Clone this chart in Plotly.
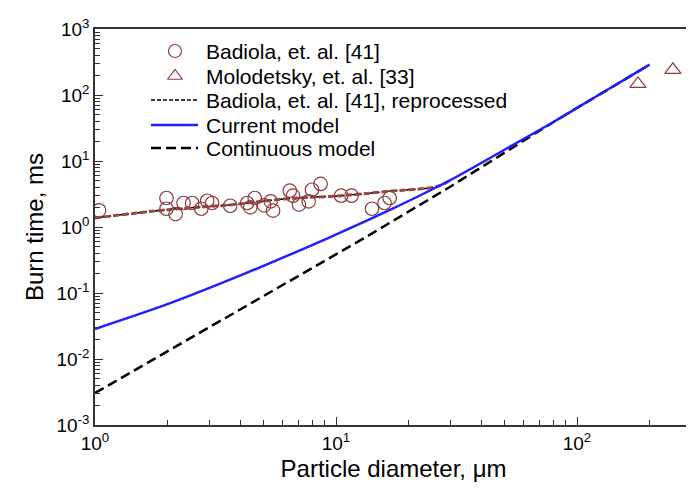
import plotly.graph_objects as go
import numpy as np

# Badiola et al. [41] experimental data (circles)
bad_d = [1.04, 1.98, 1.98, 2.16, 2.33, 2.53, 2.76, 2.92, 3.06, 3.64, 4.28, 4.41, 4.6, 5.03,
         5.36, 5.48, 6.43, 6.63, 7.02, 7.7, 7.95, 8.63, 10.5, 11.6, 14.1, 15.9, 16.7]
bad_t = [1.79, 2.75, 1.89, 1.57, 2.31, 2.31, 1.89, 2.5, 2.31, 2.1, 2.31, 1.99, 2.75, 2.13,
         2.45, 1.77, 3.55, 2.98, 2.18, 2.45, 3.67, 4.49, 2.98, 2.98, 1.89, 2.31, 2.75]

# Molodetsky et al. [33] (triangles)
mol_d = [179, 250]
mol_t = [147, 241]

# Badiola reprocessed (dashed)
rep_d = [1.0, 2.0, 3.7, 6.3, 10.5, 16.4, 26.4, 30.0]
rep_t = [1.37, 1.83, 2.18, 2.69, 2.98, 3.47, 4.14, 5.2]

# Current model (blue)
cur_d = [1.0, 1.97, 4.23, 9.27, 16.4, 30, 50, 80.8, 120, 200]
cur_t = [0.0285, 0.0665, 0.20, 0.68, 1.75, 5.2, 14.8, 40, 95, 288]

# Continuous model (black dashed)
con_d = [1.0, 4.23, 13.1, 30, 80.8, 200]
con_t = [0.00305, 0.063, 0.68, 4.14, 40, 288]

legend_names = ["Badiola, et. al. [41]", "Molodetsky, et. al. [33]",
                "Badiola, et. al. [41], reprocessed", "Current model", "Continuous model"]

x_tickvals = [1, 10, 100]
x_ticktext = ["10<sup>0</sup>", "10<sup>1</sup>", "10<sup>2</sup>"]
y_tickvals = [1e-3, 1e-2, 1e-1, 1, 10, 100, 1000]
y_ticktext = ["10<sup>-3</sup>", "10<sup>-2</sup>", "10<sup>-1</sup>", "10<sup>0</sup>",
              "10<sup>1</sup>", "10<sup>2</sup>", "10<sup>3</sup>"]

x_minor = [m * 10 ** e for e in range(0, 3) for m in range(2, 10) if m * 10 ** e < 300]
y_minor = [m * 10.0 ** e for e in range(-3, 3) for m in range(2, 10)]

BROWN = "#8e3b3b"
BLUE = "#1f1fff"
FONT = "Liberation Sans, Arial, sans-serif"

# plot-area geometry in pixels (used only for the hand-made legend key)
L, R, T, B = 87, 684, 21, 417

fig = go.Figure()
fig.add_trace(go.Scatter(x=rep_d, y=rep_t, mode="lines", name=legend_names[2], showlegend=False,
                         line=dict(color="black", width=1.5, dash="4px,2px", shape="spline")))
fig.add_trace(go.Scatter(x=rep_d, y=rep_t, mode="lines", showlegend=False,
                         line=dict(color="#9a4744", width=3, dash="6px,3px", shape="spline")))
fig.add_trace(go.Scatter(x=con_d, y=con_t, mode="lines", name=legend_names[4], showlegend=False,
                         line=dict(color="black", width=2.5, dash="10px,5px")))
fig.add_trace(go.Scatter(x=cur_d, y=cur_t, mode="lines", name=legend_names[3], showlegend=False,
                         line=dict(color=BLUE, width=2.5, shape="spline", smoothing=0.8)))
fig.add_trace(go.Scatter(x=bad_d, y=bad_t, mode="markers", name=legend_names[0], showlegend=False,
                         marker=dict(symbol="circle-open", size=13.5, color=BROWN,
                                     line=dict(width=1.2, color=BROWN))))
fig.add_trace(go.Scatter(x=mol_d, y=mol_t, mode="markers", name=legend_names[1], showlegend=False,
                         marker=dict(symbol="triangle-up-open", size=14, color=BROWN,
                                     line=dict(width=1.2, color=BROWN))))

# ---- legend key (pixel coordinates on a hidden overlay axis) ----
rows_y = [43, 68, 92, 117, 140]
sym_x = 167
line_x = [143, 190]
text_x = 196
fig.add_trace(go.Scatter(x=[sym_x], y=[rows_y[0]], xaxis="x2", yaxis="y2", mode="markers",
                         showlegend=False, hoverinfo="skip",
                         marker=dict(symbol="circle-open", size=13, color=BROWN,
                                     line=dict(width=1.2, color=BROWN))))
fig.add_trace(go.Scatter(x=[sym_x], y=[rows_y[1]], xaxis="x2", yaxis="y2", mode="markers",
                         showlegend=False, hoverinfo="skip",
                         marker=dict(symbol="triangle-up-open", size=13, color=BROWN,
                                     line=dict(width=1.2, color=BROWN))))
fig.add_trace(go.Scatter(x=line_x, y=[rows_y[2]] * 2, xaxis="x2", yaxis="y2", mode="lines",
                         showlegend=False, hoverinfo="skip",
                         line=dict(color="black", width=1.5, dash="4px,2px")))
fig.add_trace(go.Scatter(x=line_x, y=[rows_y[3]] * 2, xaxis="x2", yaxis="y2", mode="lines",
                         showlegend=False, hoverinfo="skip",
                         line=dict(color=BLUE, width=2.5)))
fig.add_trace(go.Scatter(x=line_x, y=[rows_y[4]] * 2, xaxis="x2", yaxis="y2", mode="lines",
                         showlegend=False, hoverinfo="skip",
                         line=dict(color="black", width=2.5, dash="10px,5px")))
for name, ry in zip(legend_names, rows_y):
    fig.add_annotation(x=text_x, y=ry, xref="x2", yref="y2", text=name, showarrow=False,
                       xanchor="left", yanchor="middle",
                       font=dict(family=FONT, size=21, color="black"))

axis_common = dict(showline=True, linecolor="#333333", linewidth=1.5, mirror=True,
                   ticks="inside", ticklen=8, tickwidth=1.2, tickcolor="#333333",
                   showgrid=False, zeroline=False, automargin=False,
                   tickfont=dict(family=FONT, size=19, color="black"),
                   title_font=dict(family=FONT, size=24, color="black"))

xaxis = dict(type="log", range=[0, np.log10(300)], tickmode="array",
             tickvals=x_tickvals, ticktext=x_ticktext,
             minor=dict(tickmode="array", tickvals=x_minor, ticks="inside", ticklen=5,
                        tickcolor="#333333", tickwidth=1.2, showgrid=False),
             title=dict(text="Particle diameter, μm", standoff=8), **axis_common)
yaxis = dict(type="log", range=[-3, 3], tickmode="array",
             tickvals=y_tickvals, ticktext=y_ticktext,
             minor=dict(tickmode="array", tickvals=y_minor, ticks="inside", ticklen=5,
                        tickcolor="#333333", tickwidth=1.2, showgrid=False),
             title=dict(text="Burn time, ms", standoff=6), **axis_common)

fig.update_layout(
    width=694, height=492,
    margin=dict(l=L, r=694 - R, t=T, b=492 - B, autoexpand=False),
    paper_bgcolor="white", plot_bgcolor="white",
    font=dict(family=FONT, color="black"),
    showlegend=False,
    xaxis=xaxis, yaxis=yaxis,
    xaxis2=dict(overlaying="x", range=[L, R], visible=False, anchor="y2"),
    yaxis2=dict(overlaying="y", range=[B, T], visible=False, anchor="x2"),
)

fig.write_html("out.html")
